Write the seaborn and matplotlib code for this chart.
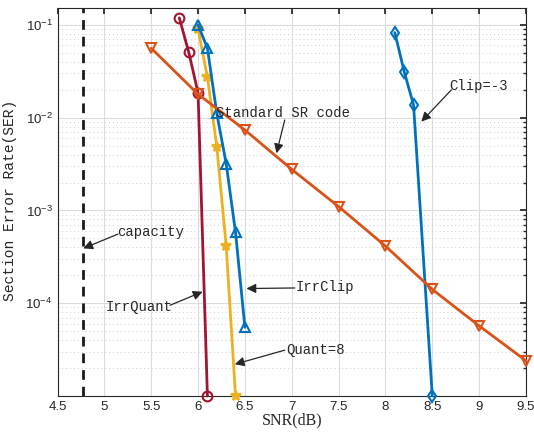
import numpy as np
import pandas as pd
import matplotlib
matplotlib.use("Agg")
import matplotlib.pyplot as plt
import seaborn as sns

snr_irrquant = [5.8, 5.9, 6.0, 6.1]
ser_irrquant = [0.119, 0.051, 0.0185, 1.0e-5]

snr_quant8 = [6.0, 6.1, 6.2, 6.3, 6.4]
ser_quant8 = [0.09, 0.0273, 0.00486, 4.16e-4, 1.0e-5]

snr_irrclip = [6.0, 6.1, 6.2, 6.3, 6.4, 6.5]
ser_irrclip = [0.1, 0.056, 0.0111, 0.0032, 5.8e-4, 5.5e-5]

snr_clip3 = [8.1, 8.2, 8.3, 8.5]
ser_clip3 = [0.0826, 0.0313, 0.0137, 1.0e-5]

snr_standard = [5.5, 6.0, 6.5, 7.0, 7.5, 8.0, 8.5, 9.0, 9.5]
ser_standard = [0.056, 0.0179, 0.00736, 0.00277, 0.0011, 4.13e-4, 1.41e-4, 5.7e-5, 2.4e-5]

capacity_snr = 4.772

x_ticks = [4.5, 5, 5.5, 6, 6.5, 7, 7.5, 8, 8.5, 9, 9.5]
y_ticks = [1e-4, 1e-3, 1e-2, 1e-1]

sns.set_theme(style="white")
plt.rcParams['font.family'] = ['Liberation Sans', 'DejaVu Sans']
plt.rcParams['mathtext.fontset'] = 'custom'
plt.rcParams['mathtext.rm'] = 'Liberation Sans'
plt.rcParams['mathtext.it'] = 'Liberation Sans'
plt.rcParams['mathtext.default'] = 'rm'
mono = 'Liberation Mono'

fig = plt.figure(figsize=(5.34, 4.32), dpi=100)
ax = fig.add_axes([0.1077, 0.0833, 0.8773, 0.8982])

series = [
    (snr_irrquant, ser_irrquant, '#A2142F', 'o', 'none', 7),
    (snr_quant8, ser_quant8, '#EDB120', '*', '#EDB120', 7),
    (snr_irrclip, ser_irrclip, '#0072BD', '^', 'none', 7),
    (snr_clip3, ser_clip3, '#0072BD', 'd', 'none', 6),
    (snr_standard, ser_standard, '#D95319', 'v', 'none', 7),
]
for xs, ys, col, mk, mfc, ms in series:
    df = pd.DataFrame({'snr': xs, 'ser': ys})
    sns.lineplot(data=df, x='snr', y='ser', ax=ax, color=col, marker=mk,
                 markersize=ms, markerfacecolor=mfc, markeredgecolor=col,
                 markeredgewidth=1.5, linewidth=2, sort=False, clip_on=False,
                 zorder=3)

ax.axvline(capacity_snr, color='k', linestyle=(0, (3.5, 2.5)), linewidth=2, zorder=2)

ax.set_yscale('log')
ax.set_xlim(4.5, 9.5)
ax.set_ylim(1.0e-5, 0.152)
ax.set_xticks(x_ticks)
ax.set_xticklabels(['4.5', '5', '5.5', '6', '6.5', '7', '7.5', '8', '8.5', '9', '9.5'])
ax.set_yticks(y_ticks)
ax.set_yticklabels([r'$10^{-4}$', r'$10^{-3}$', r'$10^{-2}$', r'$10^{-1}$'])
ax.yaxis.set_minor_locator(matplotlib.ticker.LogLocator(base=10, subs=np.arange(2, 10)))
ax.yaxis.set_minor_formatter(matplotlib.ticker.NullFormatter())

ax.grid(True, which='major', color='#dcdcdc', linewidth=0.8, linestyle='-')
ax.grid(True, which='minor', axis='y', color='#d0d0d0', linewidth=0.7, linestyle=(0, (1, 3)))
ax.set_axisbelow(True)

ax.tick_params(axis='both', which='both', direction='in', top=True, right=True,
               labelsize=9.5, colors='#262626')
ax.tick_params(which='major', length=4)
ax.tick_params(which='minor', length=2)
for s in ax.spines.values():
    s.set_color('#262626')
    s.set_linewidth(0.8)

ax.set_xlabel('SNR(dB)', family='Liberation Serif', fontsize=11.5)
ax.xaxis.set_label_coords(0.5, -0.042)
ax.set_ylabel('Section Error Rate(SER)', family=mono, fontsize=10.5)
ax.yaxis.set_label_coords(-0.087, 0.505)

arrow = dict(arrowstyle='-|>', color='#262626', lw=0.9, mutation_scale=14, shrinkA=0, shrinkB=0)
notes = [
    ('capacity', (5.135, 5.85e-4), (5.145, 5.56e-4), (4.775, 3.9e-4)),
    ('IrrQuant', (5.017, 9.08e-5), (5.70, 9.5e-5), (6.048, 1.33e-4)),
    ('IrrClip', (7.043, 1.49e-4), (7.032, 1.46e-4), (6.517, 1.44e-4)),
    ('Quant=8', (6.936, 3.12e-5), (6.925, 3.12e-5), (6.392, 2.2e-5)),
    ('Standard SR code', (6.19, 0.01125), (6.925, 0.00944), (6.837, 0.00413)),
    ('Clip=-3', (8.684, 0.022), (8.703, 0.0199), (8.383, 0.00906)),
]
for label, txt, tail, tip in notes:
    ax.annotate('', xy=tip, xytext=tail, arrowprops=arrow, zorder=4)
    ax.text(txt[0], txt[1], label, family=mono, fontsize=10, color='#262626',
            ha='left', va='center', zorder=5)

fig.savefig('out.png', dpi=100)
